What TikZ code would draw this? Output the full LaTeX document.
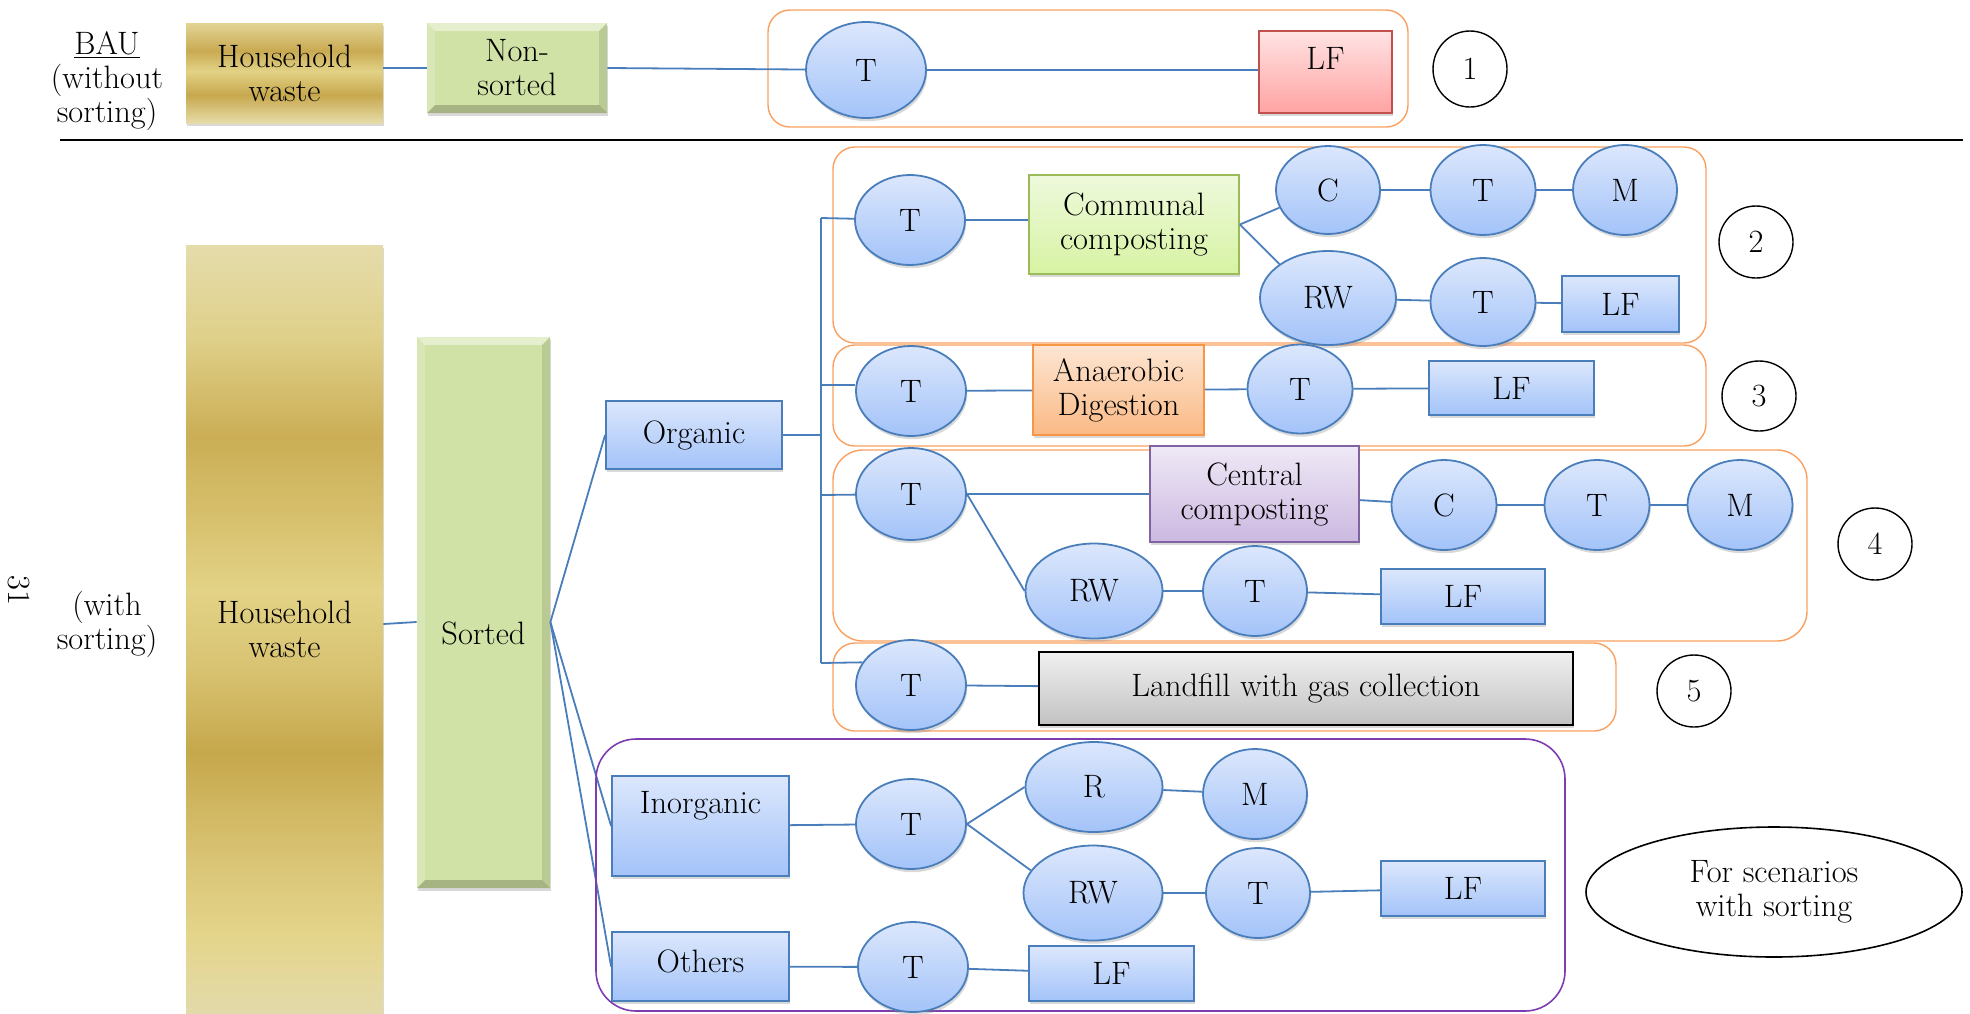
\documentclass[tikz,border=0pt]{standalone}
\usepackage{fontspec}
\usetikzlibrary{shapes.geometric,shadows}
\definecolor{lineblue}{HTML}{4A7EBB}
\definecolor{boxblue}{HTML}{4A7EBB}
\definecolor{bluetop}{HTML}{DCE7FC}
\definecolor{bluebot}{HTML}{A3C3F9}
\definecolor{redtop}{HTML}{FFE3E3}
\definecolor{redbot}{HTML}{FFA3A3}
\definecolor{redln}{HTML}{C0504D}
\definecolor{greenfill}{HTML}{D0E2A5}
\definecolor{cgtop}{HTML}{EEF9DC}
\definecolor{cgbot}{HTML}{D7F3A3}
\definecolor{cgln}{HTML}{9BBB59}
\definecolor{adtop}{HTML}{FDE6D3}
\definecolor{adbot}{HTML}{FAB984}
\definecolor{adln}{HTML}{F79646}
\definecolor{cetop}{HTML}{EFE9F6}
\definecolor{cebot}{HTML}{CBB8E0}
\definecolor{celn}{HTML}{8064A2}
\definecolor{grtop}{HTML}{F0F0F0}
\definecolor{grbot}{HTML}{C2C2C2}
\definecolor{orangeln}{HTML}{F9A060}
\definecolor{purpleln}{HTML}{7D3CB0}
% gold colours
\definecolor{ga}{HTML}{E5DCAB}
\definecolor{gb}{HTML}{DFD08A}
\definecolor{gc}{HTML}{CBAE55}
\definecolor{gd}{HTML}{D6BF6C}
\definecolor{ge}{HTML}{E3D386}
\definecolor{gf}{HTML}{D8C372}
\definecolor{gg}{HTML}{C6A84C}
\definecolor{gh}{HTML}{D9C475}
\definecolor{gi}{HTML}{E4D58B}
\definecolor{gj}{HTML}{E3DAAA}
\definecolor{sa}{HTML}{E2D495}
\definecolor{sb}{HTML}{C9AA52}
\definecolor{sc}{HTML}{E2D286}
\definecolor{sd}{HTML}{C7A84E}
\definecolor{se}{HTML}{E6DCA8}
\pgfdeclareverticalshading{goldtall}{100bp}{color(0bp)=(gj); color(25bp)=(gj); color(30bp)=(gi); color(35bp)=(gh); color(42bp)=(gg); color(47.5bp)=(gf); color(52.5bp)=(ge); color(57.5bp)=(gd); color(62.5bp)=(gc); color(69bp)=(gb); color(75bp)=(ga); color(100bp)=(ga)}
\pgfdeclareverticalshading{goldshort}{100bp}{color(0bp)=(se); color(25bp)=(se); color(39bp)=(sd); color(51bp)=(sc); color(61bp)=(sb); color(75bp)=(sa); color(100bp)=(sa)}
\tikzset{
  base/.style={font=\fontsize{16.2}{17}\selectfont, inner sep=0pt, align=center, text=black},
  conn/.style={draw=lineblue, line width=0.9pt},
  shad/.style={drop shadow={shadow xshift=0.6pt, shadow yshift=-1.6pt, opacity=0.3}},
  bluebox/.style={base, rectangle, draw=boxblue, line width=0.9pt, top color=bluetop, bottom color=bluebot, shad},
  blueell/.style={base, ellipse, draw=boxblue, line width=0.9pt, top color=bluetop, bottom color=bluebot, shad},
  numell/.style={base, ellipse, draw=black, line width=0.7pt, minimum width=37pt, minimum height=36pt},
  scbox/.style={rectangle, draw=orangeln, line width=0.7pt, rounded corners=11pt, inner sep=0pt},
  goldbox/.style={base, rectangle, shade, shading angle=0, shad},
  greenbev/.style={base, rectangle, fill=greenfill, shad,
    path picture={
      \fill[white,opacity=0.45] (path picture bounding box.north west) -- (path picture bounding box.north east) -- ([shift={(-4pt,-4pt)}]path picture bounding box.north east) -- ([shift={(4pt,-4pt)}]path picture bounding box.north west) -- cycle;
      \fill[black,opacity=0.2] (path picture bounding box.south west) -- (path picture bounding box.south east) -- ([shift={(-4pt,4pt)}]path picture bounding box.south east) -- ([shift={(4pt,4pt)}]path picture bounding box.south west) -- cycle;
      \fill[black,opacity=0.1] (path picture bounding box.north east) -- (path picture bounding box.south east) -- ([shift={(-4pt,4pt)}]path picture bounding box.south east) -- ([shift={(-4pt,-4pt)}]path picture bounding box.north east) -- cycle;
      \fill[white,opacity=0.18] (path picture bounding box.north west) -- (path picture bounding box.south west) -- ([shift={(4pt,4pt)}]path picture bounding box.south west) -- ([shift={(4pt,-4pt)}]path picture bounding box.north west) -- cycle;
    }},
}
\begin{document}
\begin{tikzpicture}[x=0.5pt,y=-0.5pt]
\useasboundingbox (0,0) rectangle (1970,1013);

% ---------- BAU row ----------
\node[base] (bau) at (107,81) {\underline{BAU}\\(without\\sorting)};
\node[goldbox, shading=goldshort, minimum width=98.5pt, minimum height=50pt] (hhA) at (284.5,73) {Household\\waste};
\node[greenbev, minimum width=90pt, minimum height=45pt] (ns) at (517,68) {Non-\\sorted};
\node[scbox, minimum width=320pt, minimum height=58.5pt] (sc1) at (1088,68.5) {};
\node[blueell, minimum width=60pt, minimum height=48pt] (t1) at (866,70) {T};
\node[base, rectangle, draw=redln, line width=0.9pt, top color=redtop, bottom color=redbot, shad, minimum width=66.5pt, minimum height=41pt, text depth=14pt] (lf1) at (1325.5,72) {LF};
\node[numell, minimum height=38pt] (n1) at (1470,69) {1};
\draw[conn] (ns.west -| hhA.east) -- (ns.west);
\draw[conn] (ns.east) -- (t1);
\draw[conn] (t1) -- (t1 -| lf1.west);

% separator
\coordinate (sepL) at (60,139.5);
\coordinate (sepR) at (1963,139.5);
\draw[black, line width=1pt] (sepL) -- (sepR);

% ---------- sorting part ----------
\node[base, rotate=-90] (pg) at (19,590) {31};
\node[base] (withs) at (107,624) {(with\\sorting)};
\node[goldbox, shading=goldtall, minimum width=98.5pt, minimum height=384pt] (hhB) at (284.5,629) {Household\\waste};
\node[greenbev, minimum width=66.5pt, minimum height=275.5pt, text height=32pt] (sorted) at (483.5,612.5) {Sorted};
\coordinate (y624) at (0,624);
\coordinate (y622) at (0,622);
\draw[conn] (hhB.east |- y624) -- (sorted.west |- y622);
\coordinate (fan) at (sorted.east |- y622);

\node[bluebox, minimum width=88pt, minimum height=34pt] (org) at (694,435) {Organic};
\node[bluebox, minimum width=88.5pt, minimum height=50pt, text depth=24pt] (inorg) at (700.5,826) {Inorganic};
\node[bluebox, minimum width=88.5pt, minimum height=34.5pt, text depth=5pt] (oth) at (700.5,966.5) {Others};
\draw[conn] (fan) -- (org.west);
\draw[conn] (fan) -- (inorg.west);
\draw[conn] (fan) -- (oth.west);

% scenario frames
\node[scbox, minimum width=436.5pt, minimum height=98pt] (sc2) at (1269.5,245) {};
\node[scbox, minimum width=436.5pt, minimum height=50.5pt] (sc3) at (1269.5,395.5) {};
\node[scbox, rounded corners=15pt, minimum width=487pt, minimum height=95.5pt] (sc4) at (1320,545.5) {};
\node[scbox, minimum width=391.5pt, minimum height=44pt] (sc5) at (1224.5,687) {};
\node[rectangle, draw=purpleln, line width=0.8pt, rounded corners=20pt, minimum width=484.5pt, minimum height=136pt, inner sep=0pt] (pbox) at (1080.5,875) {};

% bus
\coordinate (bt) at (821,218);
\coordinate (bb) at (821,663);
\coordinate (bo) at (821,435);
\coordinate (b3) at (821,385);
\coordinate (b4) at (821,495);
\draw[conn] (org.east) -- (bo);
\draw[conn] (bt) -- (bb);

% scenario 2
\node[blueell, minimum width=55pt, minimum height=45pt] (t2a) at (910,220) {T};
\node[base, rectangle, draw=cgln, line width=0.9pt, top color=cgtop, bottom color=cgbot, shad, minimum width=105pt, minimum height=49.5pt] (cc) at (1134,224.5) {Communal\\composting};
\node[blueell, minimum width=52pt, minimum height=44pt] (c2) at (1328,190) {C};
\node[blueell, minimum width=52.5pt, minimum height=45pt] (t2b) at (1483,190) {T};
\node[blueell, minimum width=52pt, minimum height=45pt] (m2) at (1625,190) {M};
\node[blueell, minimum width=68pt, minimum height=47pt] (rw2) at (1328,298) {RW};
\node[blueell, minimum width=52.5pt, minimum height=44pt] (t2c) at (1483,302) {T};
\node[bluebox, minimum width=58.5pt, minimum height=28pt] (lf2) at (1620.5,304) {LF};
\node[numell] (n2) at (1756,242) {2};
\draw[conn] (bt) -- (t2a);
\draw[conn] (t2a) -- (t2a -| cc.west);
\draw[conn] (cc.east) -- (c2.200);
\draw[conn] (cc.east) -- (rw2.145);
\draw[conn] (c2) -- (t2b);
\draw[conn] (t2b) -- (m2);
\draw[conn] (rw2) -- (t2c);
\draw[conn] (t2c) -- (lf2);

% scenario 3
\node[blueell, minimum width=55pt, minimum height=45pt] (t3a) at (911,391) {T};
\node[base, rectangle, draw=adln, line width=0.9pt, top color=adtop, bottom color=adbot, shad, minimum width=85.5pt, minimum height=45pt] (ad) at (1118.5,390) {Anaerobic\\Digestion};
\node[blueell, minimum width=52.5pt, minimum height=44.5pt] (t3b) at (1300,389) {T};
\node[bluebox, minimum width=82.5pt, minimum height=27pt] (lf3) at (1511.5,388) {LF};
\node[numell, minimum height=35pt] (n3) at (1759,396) {3};
\draw[conn] (b3) -- (b3 -| t3a.west);
\draw[conn] (t3a) -- (ad);
\draw[conn] (ad) -- (t3b);
\draw[conn] (t3b) -- (lf3);

% scenario 4
\node[blueell, minimum width=55pt, minimum height=46pt] (t4a) at (911,494) {T};
\node[base, rectangle, draw=celn, line width=0.9pt, top color=cetop, bottom color=cebot, shad, minimum width=104.5pt, minimum height=48pt] (cent) at (1254.5,494) {Central\\composting};
\node[blueell, minimum width=52.5pt, minimum height=45pt] (c4) at (1444,505) {C};
\node[blueell, minimum width=52.5pt, minimum height=45pt] (t4b) at (1597,505) {T};
\node[blueell, minimum width=52.5pt, minimum height=45pt] (m4) at (1740,505) {M};
\node[blueell, minimum width=68.5pt, minimum height=47.5pt] (rw4) at (1094,591) {RW};
\node[blueell, minimum width=52pt, minimum height=45pt] (t4c) at (1255,591) {T};
\node[bluebox, minimum width=82pt, minimum height=27.5pt] (lf4) at (1463,596.5) {LF};
\node[numell] (n4) at (1875,544) {4};
\draw[conn] (b4) -- (t4a);
\draw[conn] (t4a) -- (cent);
\draw[conn] (t4a.east) -- (rw4.west);
\draw[conn] (cent) -- (c4);
\draw[conn] (c4) -- (t4b);
\draw[conn] (t4b) -- (m4);
\draw[conn] (rw4) -- (t4c);
\draw[conn] (t4c) -- (lf4);

% scenario 5
\node[blueell, minimum width=55pt, minimum height=45pt] (t5) at (911,685) {T};
\node[base, rectangle, draw=black, line width=1.1pt, top color=grtop, bottom color=grbot, shad, minimum width=267pt, minimum height=36.5pt] (lfg) at (1306,688.5) {Landfill with gas collection};
\node[numell] (n5) at (1694,691) {5};
\draw[conn] (bb) -- (t5.155);
\draw[conn] (t5) -- (lfg);

% inorganic
\node[blueell, minimum width=55pt, minimum height=45pt] (t6) at (911,824) {T};
\node[blueell, minimum width=68.5pt, minimum height=45pt] (r6) at (1094,787) {R};
\node[blueell, minimum width=52pt, minimum height=45pt] (m6) at (1255,794) {M};
\node[blueell, minimum width=69.5pt, minimum height=47.5pt] (rw6) at (1093,893) {RW};
\node[blueell, minimum width=52pt, minimum height=45pt] (t6b) at (1258,893) {T};
\node[bluebox, minimum width=82pt, minimum height=27.5pt] (lf6) at (1463,888.5) {LF};
\draw[conn] (inorg) -- (t6);
\draw[conn] (t6.east) -- (r6.west);
\draw[conn] (t6.east) -- (rw6.160);
\draw[conn] (r6) -- (m6);
\draw[conn] (rw6) -- (t6b);
\draw[conn] (t6b) -- (lf6);

% others
\node[blueell, minimum width=55pt, minimum height=45pt] (t7) at (913,967) {T};
\node[bluebox, minimum width=82.5pt, minimum height=27.5pt] (lf7) at (1111.5,973.5) {LF};
\draw[conn] (oth) -- (t7);
\draw[conn] (t7) -- (lf7);

% legend
\node[base, ellipse, draw=black, line width=0.8pt, minimum width=188pt, minimum height=65pt] (forsc) at (1774,892) {For scenarios\\with sorting};
\end{tikzpicture}
\end{document}
